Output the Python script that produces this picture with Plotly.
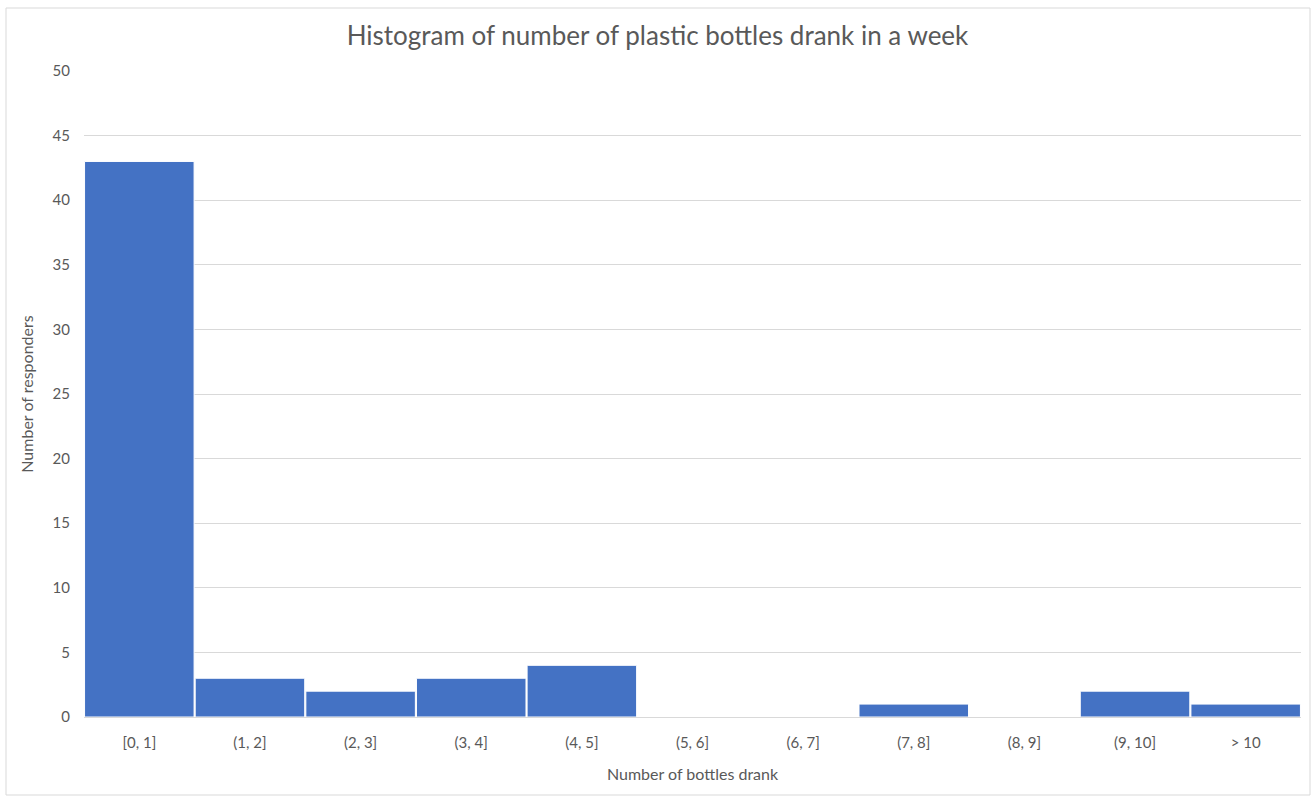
import plotly.graph_objects as go

# Weekly plastic bottle consumption, binned counts
bins = ["[0, 1]", "(1, 2]", "(2, 3]", "(3, 4]", "(4, 5]", "(5, 6]",
        "(6, 7]", "(7, 8]", "(8, 9]", "(9, 10]", "> 10"]
responders = [43, 3, 2, 3, 4, 0, 0, 1, 0, 2, 1]
y_ticks = list(range(0, 51, 5))

W, H = 1315, 796
L, R, T, B = 84, 14, 71, 79
pw, ph = W - L - R, H - T - B

text_col = "#595959"
font_family = "Lato, 'Open Sans', sans-serif"

fig = go.Figure(
    go.Bar(
        x=bins,
        y=responders,
        marker=dict(color="#4472C4", line=dict(color="#ffffff", width=1)),
        hoverinfo="x+y",
    )
)

# Chart-area border
def px_x(v):
    return (v - L) / pw

def px_y(v):
    return (H - B - v) / ph

fig.add_shape(
    type="rect", xref="paper", yref="paper",
    x0=px_x(6), x1=px_x(1310), y0=px_y(795), y1=px_y(8),
    line=dict(color="#d9d9d9", width=1), fillcolor="rgba(0,0,0,0)",
    layer="below",
)

fig.update_layout(
    width=W, height=H,
    margin=dict(l=L, r=R, t=T, b=B),
    paper_bgcolor="white", plot_bgcolor="white",
    bargap=0.01,
    showlegend=False,
    font=dict(family=font_family, color=text_col),
    title=dict(
        text="Histogram of number of plastic bottles drank in a week",
        x=0.5, xref="container", xanchor="center",
        y=1 - 36 / H, yref="container", yanchor="middle",
        font=dict(size=26, color=text_col, family=font_family),
    ),
    xaxis=dict(
        type="category",
        showgrid=False,
        showline=True, linecolor="#d9d9d9", linewidth=1,
        ticks="", ticklabelstandoff=12,
        tickfont=dict(size=15, color=text_col),
        title=dict(text="Number of bottles drank", standoff=18,
                   font=dict(size=16, color=text_col)),
    ),
    yaxis=dict(
        range=[0, 50],
        tickvals=y_ticks,
        showgrid=True, gridcolor="#d9d9d9", gridwidth=1,
        zeroline=False, showline=False,
        ticks="", ticklabelstandoff=13,
        tickfont=dict(size=15, color=text_col),
        title=dict(text="Number of responders", standoff=14,
                   font=dict(size=16, color=text_col)),
    ),
)

fig.write_html("out.html")
